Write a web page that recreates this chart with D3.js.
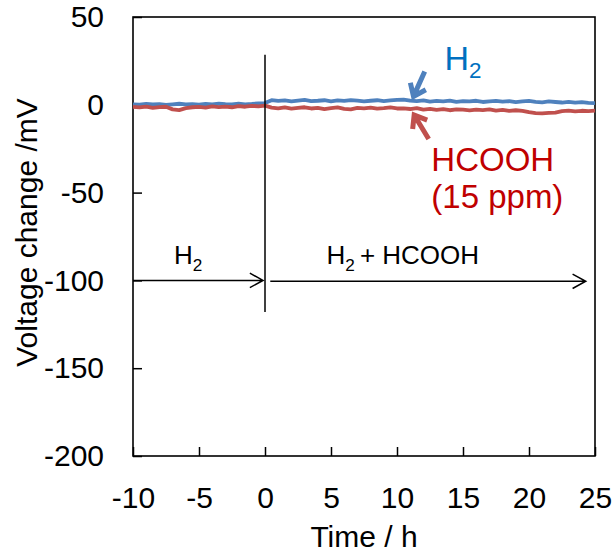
<!DOCTYPE html>
<html>
<head>
<meta charset="utf-8">
<script src="https://cdn.jsdelivr.net/npm/d3@7"></script>
<style>
  body { margin: 0; background: #fff; }
  text { font-family: "Liberation Sans", Arial, sans-serif; }
</style>
</head>
<body>
<div id="chart"></div>
<script>
// time axis: -10 h .. 25 h, one reading every 0.5 h
var timeStart = -10, timeStep = 0.5;

// H2 only (blue)
var h2Values = [
  0.3, 0.1, 0.5, 0.2, 0.4, -0.1, 0.3, 0.6, 0.2, 0.4,
  0.1, 0.5, 0.3, 0.7, 0.4, 0.2, 0.6, 0.3, 0.5, 0.8,
  1.0, 2.6, 2.2, 2.5, 1.9, 2.4, 2.8, 2.1, 2.3, 2.6,
  2.0, 2.5, 2.2, 2.7, 2.4, 1.9, 2.3, 2.6, 2.1, 2.5, 2.8,
  3.0, 2.4, 2.1, 2.5, 1.8, 2.2, 2.0, 2.4, 1.7, 2.1,
  1.9, 2.3, 1.6, 2.0, 2.2, 1.8, 2.1, 1.5, 1.9, 2.2,
  1.7, 1.4, 1.9, 1.6, 1.3, 1.7, 1.2, 1.5, 1.1, 1.0
];

// HCOOH 15 ppm (red)
var hcoohValues = [
  -1.2, -1.5, -1.0, -1.8, -1.3, -1.1, -2.6, -3.0, -1.9, -1.4,
  -1.2, -1.6, -0.9, -1.3, -1.0, -1.4, -0.8, -1.1, -0.6, -0.9,
  -0.5, -1.6, -2.0, -1.5, -2.2, -1.8, -1.4, -2.1, -1.7, -2.4,
  -1.9, -1.5, -2.3, -2.6, -1.8, -2.0, -1.6, -2.2, -1.9, -1.5, -2.1,
  -2.0, -2.4, -1.9, -2.7, -2.3, -2.9, -2.5, -3.1, -2.6, -2.8,
  -3.2, -2.7, -3.0, -2.6, -3.3, -2.9, -3.5, -3.1, -3.4, -4.2,
  -4.7, -4.9, -4.6, -4.4, -3.6, -3.3, -3.7, -3.4, -3.6, -3.3
];

var xTicks = [-10, -5, 0, 5, 10, 15, 20, 25];
var yTicks = [50, 0, -50, -100, -150, -200];

var width = 616, height = 553,
    margin = {top: 17, right: 21, bottom: 97, left: 133},
    plotW = width - margin.left - margin.right,
    plotH = height - margin.top - margin.bottom;

var blueLine = '#4F81BD', redLine = '#C0504D',
    blueText = '#0070C0', redText = '#C00000';

var svg = d3.select('#chart')
  .append('svg')
  .attr('width', width)
  .attr('height', height);

var g = svg.append('g')
  .attr('transform', 'translate(' + margin.left + ',' + margin.top + ')');

var x = d3.scaleLinear().domain([-10, 25]).range([0, plotW]);
var y = d3.scaleLinear().domain([-200, 50]).range([plotH, 0]);

function toPoints(values){
  return values.map(function(v, i){
    return {t: timeStart + i * timeStep, v: v};
  });
}

// plain hyphen for negatives, as in the original
var fmt = function(d){ return String(d); };

// axes with inward ticks
var xAxis = g.append('g')
  .attr('transform', 'translate(0,' + plotH + ')')
  .call(d3.axisBottom(x).tickValues(xTicks).tickFormat(fmt)
    .tickSizeInner(-9).tickSizeOuter(0).tickPadding(31));
var yAxis = g.append('g')
  .call(d3.axisLeft(y).tickValues(yTicks).tickFormat(fmt)
    .tickSizeInner(-9).tickSizeOuter(0).tickPadding(29));

[xAxis, yAxis].forEach(function(a){
  a.select('.domain').remove();
  a.selectAll('line').attr('stroke', '#000').attr('stroke-width', 1.5);
  a.selectAll('text').attr('font-size', 30).attr('fill', '#000')
    .style('font-family', '"Liberation Sans", Arial, sans-serif');
});

// frame
g.append('rect')
  .attr('width', plotW)
  .attr('height', plotH)
  .attr('fill', 'none')
  .attr('stroke', '#000')
  .attr('stroke-width', 1.6);

var line = d3.line()
  .x(function(d){ return x(d.t); })
  .y(function(d){ return y(d.v); });

g.append('path')
  .datum(toPoints(h2Values))
  .attr('d', line)
  .attr('fill', 'none')
  .attr('stroke', blueLine)
  .attr('stroke-width', 3.8)
  .attr('stroke-linejoin', 'round');

g.append('path')
  .datum(toPoints(hcoohValues))
  .attr('d', line)
  .attr('fill', 'none')
  .attr('stroke', redLine)
  .attr('stroke-width', 3.8)
  .attr('stroke-linejoin', 'round');

// gas switch marker and range arrows
g.append('line')
  .attr('x1', x(0)).attr('x2', x(0))
  .attr('y1', y(28.5)).attr('y2', y(-118))
  .attr('stroke', '#000').attr('stroke-width', 1.5);

function arrow(x1, y1, x2, y2, len, spread, color, w){
  var ang = Math.atan2(y2 - y1, x2 - x1),
      a1 = ang + Math.PI - spread,
      a2 = ang + Math.PI + spread;
  var d = 'M' + x1 + ',' + y1 + 'L' + x2 + ',' + y2 +
    'M' + (x2 + len * Math.cos(a1)) + ',' + (y2 + len * Math.sin(a1)) +
    'L' + x2 + ',' + y2 +
    'L' + (x2 + len * Math.cos(a2)) + ',' + (y2 + len * Math.sin(a2));
  g.append('path')
    .attr('d', d)
    .attr('fill', 'none')
    .attr('stroke', color)
    .attr('stroke-width', w)
    .attr('stroke-linejoin', 'miter');
}

arrow(x(-10), y(-100), x(-0.15), y(-100), 15, 0.5, '#000', 1.5);
arrow(x(0.4), y(-100.5), x(24.3), y(-100.5), 15, 0.5, '#000', 1.5);

// pointer arrows to the traces
arrow(x(12.1), y(19), x(11.25), y(4.8), 14, 0.65, blueLine, 5);
arrow(x(12.4), y(-19.5), x(11.3), y(-5.8), 14, 0.65, redLine, 5);

function labelSub(gx, gy, main, sub, rest, size, color){
  var t = g.append('text')
    .attr('x', gx).attr('y', gy)
    .attr('font-size', size)
    .attr('fill', color);
  t.append('tspan').text(main);
  t.append('tspan').attr('font-size', size * 0.66).attr('dy', size * 0.25).text(sub);
  if (rest) t.append('tspan').attr('dy', -size * 0.25).text(rest);
  return t;
}

labelSub(x(-6.9), y(-90.7), 'H', '2', null, 26, '#000');
labelSub(x(4.65), y(-90.7), 'H', '2', '\u2009+ HCOOH', 26, '#000');

labelSub(x(13.6), y(20), 'H', '2', null, 34, blueText);

g.append('text')
  .attr('x', x(12.6)).attr('y', y(-37.5))
  .attr('font-size', 33)
  .attr('fill', redText)
  .text('HCOOH');
g.append('text')
  .attr('x', x(12.6)).attr('y', y(-58.5))
  .attr('font-size', 33)
  .attr('fill', redText)
  .text('(15 ppm)');

// axis titles
svg.append('text')
  .attr('x', margin.left + plotW / 2)
  .attr('y', 547)
  .attr('text-anchor', 'middle')
  .attr('font-size', 30)
  .text('Time / h');

svg.append('text')
  .attr('transform', 'translate(37,' + (margin.top + plotH / 2 - 4) + ') rotate(-90)')
  .attr('text-anchor', 'middle')
  .attr('font-size', 30)
  .text('Voltage change /mV');
</script>
</body>
</html>
